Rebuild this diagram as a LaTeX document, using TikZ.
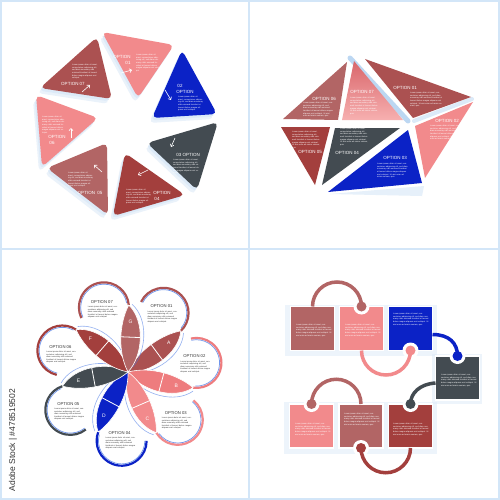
\documentclass[tikz,border=0pt]{standalone}
\usepackage{fontspec}
\setmainfont{Liberation Sans}
\usetikzlibrary{arrows.meta,calc}
\definecolor{pinkA}{HTML}{F28A8C}
\definecolor{pinkB}{HTML}{EE7C7E}
\definecolor{pinkTop}{HTML}{D9666B}
\definecolor{pinkBot}{HTML}{F7B0B0}
\definecolor{blueA}{HTML}{0B22C6}
\definecolor{grayA}{HTML}{434B51}
\definecolor{redA}{HTML}{A33F3D}
\definecolor{roseA}{HTML}{B26565}
\definecolor{brickA}{HTML}{AB5151}
\definecolor{frameA}{HTML}{D3E6F8}
\definecolor{glowA}{HTML}{DCEAF8}
\definecolor{glowB}{HTML}{BCD7F2}
\definecolor{lineB}{HTML}{4C7BE6}
\definecolor{txtA}{HTML}{333333}
\newcommand\loremtxt{Lorem ipsum dolor sit amet, consectetuer adipiscing elit, sed diam nonummy nibh euismod tincidunt ut laoreet dolore magna aliquam erat volutpat. Ut wisi enim ad minim veniam, quis}
\newcommand\loremshort{Lorem ipsum dolor sit amet, consectetuer adipiscing elit, sed diam nonummy nibh euismod tincidunt ut laoreet dolore magna aliquam erat volutpat.}
\tikzset{
  opt/.style={font=\fontsize{4.5}{5}\selectfont, text=white, inner sep=0pt},
  optd/.style={font=\fontsize{4.2}{5}\selectfont, text=txtA, inner sep=0pt},
  lor/.style={font=\fontsize{2}{2.6}\selectfont, text=white, align=left, inner sep=0pt, text width=#1, anchor=north west},
  lord/.style={font=\fontsize{2}{2.5}\selectfont, text=txtA, align=left, inner sep=0pt, text width=#1, anchor=north},
  warrow/.style={white, line width=0.6pt, -{Straight Barb[length=2.2pt,width=4pt]}},
  sqr/.style={minimum width=44pt, minimum height=44pt, inner sep=0pt, outer sep=0pt, draw=white, line width=1.2pt},
  con/.style={line width=3.5pt},
  letter/.style={font=\fontsize{5}{5}\selectfont, text=white, inner sep=0pt},
}
\newcommand\qtri[4]{%
  \fill[glowA, opacity=0.6, rounded corners=5pt, shift={(-3,5)}] #2 -- #3 -- #4 -- cycle;
  \fill[glowA, rounded corners=5pt, shift={(-1.5,2.5)}] #2 -- #3 -- #4 -- cycle;
  \fill[#1, rounded corners=5pt] #2 -- #3 -- #4 -- cycle;}
\newcommand\qpetal[5]{%
  \begin{scope}[shift={(128,372)}, rotate=-#1]
    \draw[#3, line width=2.2pt] (69,0) ++(105:25) arc[start angle=105, end angle=-95, radius=25];
    \draw[lineB, line width=0.7pt, opacity=0.8] (69,0) ++(100:23.2) arc[start angle=100, end angle=-95, radius=23.2];
    \draw[lineB, line width=0.6pt, opacity=0.6] (3,6) .. controls (12,24) and (42,38) .. (62,27.5);
    \fill[#2, draw=white, line width=0.6pt] (0,0) .. controls (10,20) and (42,34) .. (62.5,24.1) .. controls (50,10) and (24,-3) .. (0,0) -- cycle;
    \draw[white, line width=0.8pt] (28,23.5) -- (35.5,5.6);
    \node[letter] (#5) at (46,20) {#4};
  \end{scope}}
\begin{document}
\begin{tikzpicture}[x=1pt,y=-1pt]
\path[use as bounding box] (0,0) rectangle (500,500);
\fill[white] (0,0) rectangle (500,500);
\draw[frameA, line width=2pt] (1,1) rectangle (499,499);
\draw[frameA, line width=2.5pt] (249,0) -- (249,500);
\draw[frameA, line width=2.5pt] (0,249) -- (500,249);

% ---------------- Quadrant 1 : heptagon of triangles
\qtri{pinkA}{(102,32)}{(174,45)}{(138,98)}
\qtri{blueA}{(182,50)}{(217,114)}{(152,118)}
\qtri{grayA}{(218,122)}{(197,190)}{(147,143)}
\qtri{redA}{(125,153)}{(185,195)}{(113,216)}
\qtri{roseA}{(107,143)}{(108,215)}{(47,168)}
\qtri{pinkA}{(36,95)}{(42,167)}{(98,118)}
\qtri{brickA}{(97,37)}{(112,99)}{(40,88)}

\node[opt] (q1o1) at (122,57) {OPTION};
\node[opt] (q1n1) at (128,63) {01};
\node[lor=24] (q1l1) at (136,54) {\loremshort};
\draw[warrow] (121,73) -- (132,70);

\node[opt] (q1n2) at (180,86) {02};
\node[opt] (q1o2) at (185,92) {OPTION};
\node[lor=25] (q1l2) at (178,96) {\loremshort};
\draw[warrow] (165,90) -- (171,100);

\node[opt] (q1o3) at (188,155) {03 OPTION};
\node[lor=27] (q1l3) at (173,159) {\loremshort};
\draw[warrow] (175,138) -- (171,147);

\node[opt] (q1o4) at (162,193) {OPTION};
\node[opt] (q1n4) at (157,199) {04};
\node[lor=25] (q1l4) at (126,189) {\loremshort};
\draw[warrow] (148,170) -- (138,175);

\node[opt] (q1o5) at (90,193) {OPTION\enspace05};
\node[lor=25] (q1l5) at (68,172) {\loremshort};
\draw[warrow] (102,172) -- (94,165);

\node[opt] (q1o6) at (57,137) {OPTION};
\node[opt] (q1n6) at (52,143) {06};
\node[lor=23] (q1l6) at (42,116) {\loremshort};
\draw[warrow] (71,138) -- (71,128);

\node[opt] (q1o7) at (73,84) {OPTION 07};
\node[lor=26] (q1l7) at (72,64) {\loremshort};
\draw[warrow] (82,92) -- (90,85);

% ---------------- Quadrant 2 : pentagon of triangles
\draw[glowB, line width=5pt, line cap=round] (350,58) -- (408,121);
\draw[glowA, line width=4pt, line cap=round] (414,121) -- (472,99);
\fill[glowA, opacity=0.7] (330,194) -- (424,186) -- (422,196) -- cycle;
\fill[brickA] (365,59) -- (471,97) -- (413,118) -- cycle;
\fill[pinkA] (473,102) -- (415,126) -- (425,178) -- cycle;
\fill[blueA] (408,130) -- (422,183) -- (328,192) -- cycle;
\fill[grayA] (335,128) -- (400,128) -- (322,185) -- cycle;
\fill[redA] (281,127) -- (330,127) -- (315,185) -- cycle;
\fill[roseA] (347,62) -- (283,119) -- (338,120) -- cycle;
\shade[top color=pinkTop, bottom color=pinkBot] (354,61) -- (342,120) -- (403,120) -- cycle;

\node[opt] (q2o1) at (405,88) {OPTION 01};
\node[lor=32] (q2l1) at (410,92) {\loremtxt};
\node[opt] (q2o2) at (447,121) {OPTION 02};
\node[lor=30] (q2l2) at (430,125) {\loremtxt};
\node[opt] (q2o3) at (395,158) {OPTION 03};
\node[lor=31] (q2l3) at (377,163) {\loremtxt};
\node[opt] (q2o4) at (347,153) {OPTION 04};
\node[lor=28] (q2l4) at (340,128) {\loremtxt};
\node[opt] (q2o5) at (310,152) {OPTION 05};
\node[lor=28] (q2l5) at (292,131) {\loremtxt};
\node[opt] (q2o6) at (324,99) {OPTION 06};
\node[lor=30] (q2l6) at (303,102) {\loremtxt};
\node[opt] (q2o7) at (362,92) {OPTION 07};
\node[lor=28] (q2l7) at (350,97) {\loremtxt};

% ---------------- Quadrant 3 : pinwheel
\qpetal{-59}{brickA}{brickA}{A}{pa}
\qpetal{-7.57}{pinkB}{pinkB}{B}{pb}
\qpetal{43.86}{pinkA}{pinkA}{C}{pc}
\qpetal{95.29}{blueA}{blueA}{D}{pd}
\qpetal{146.71}{grayA}{grayA}{E}{pe}
\qpetal{198.14}{redA}{redA}{F}{pf}
\qpetal{249.57}{roseA}{brickA}{G}{pg}

\node[optd] (q3o1) at (161.5,306.5) {OPTION 01};
\node[lord=30] (q3l1) at (162.5,310.5) {\loremshort};
\node[optd] (q3o2) at (194.4,356.5) {OPTION 02};
\node[lord=30] (q3l2) at (195.4,360.5) {\loremshort};
\node[optd] (q3o3) at (175.8,413) {OPTION 03};
\node[lord=30] (q3l3) at (176.8,417) {\loremshort};
\node[optd] (q3o4) at (119.6,433) {OPTION 04};
\node[lord=30] (q3l4) at (120.6,437) {\loremshort};
\node[optd] (q3o5) at (68.3,404) {OPTION 05};
\node[lord=30] (q3l5) at (69.3,408) {\loremshort};
\node[optd] (q3o6) at (60.4,347) {OPTION 06};
\node[lord=30] (q3l6) at (61.4,351) {\loremshort};
\node[optd] (q3o7) at (101.9,302) {OPTION 07};
\node[lord=30] (q3l7) at (102.9,306) {\loremshort};

\node[rotate=90, font=\fontsize{8.5}{9}\selectfont, text=txtA, inner sep=0pt] (stock) at (13,440) {Adobe Stock | \#478519502};

% ---------------- Quadrant 4 : linked squares
\fill[glowA, opacity=0.5] (285,305) rectangle (437,356);
\fill[glowA, opacity=0.5] (432,354) rectangle (482,404);
\fill[glowA, opacity=0.5] (284,402) rectangle (437,454);
\node[sqr, fill=roseA] (s1) at (312.5,328.5) {};
\node[sqr, fill=pinkA] (s2) at (361.5,328.5) {};
\node[sqr, fill=blueA] (s3) at (410.5,328.5) {};
\node[sqr, fill=grayA] (s4) at (457.5,378) {};
\node[sqr, fill=pinkA] (s5) at (311.5,426) {};
\node[sqr, fill=roseA] (s6) at (361,426) {};
\node[sqr, fill=redA] (s7) at (410.5,426) {};

\foreach \p in {s2.north, s3.south, s4.north, s7.north, s5.north, s6.south}
  \fill[white] (\p) circle[radius=8];

\draw[con, roseA] (s1.north) arc[start angle=180, end angle=360, radius=24.5];
\draw[con, pinkA] (s2.south) arc[start angle=180, end angle=0, radius=24.5];
\draw[con, blueA] ($(s3.east)+(0,6)$) .. controls (449,334.5) and (457.5,343) .. (s4.north);
\draw[con, grayA] ($(s4.west)+(0,5)$) .. controls (420,384) and (410.5,393) .. (s7.north);
\draw[con, roseA] (s6.north) arc[start angle=0, end angle=-180, radius=24.75];
\draw[con, redA] (s7.south) arc[start angle=0, end angle=180, radius=24.75];

\fill[roseA] (s2.north) circle[radius=5];
\fill[pinkA] (s3.south) circle[radius=5];
\fill[blueA] (s4.north) circle[radius=5];
\fill[grayA] (s7.north) circle[radius=5];
\fill[roseA] (s5.north) circle[radius=5];
\fill[redA] (s6.south) circle[radius=5];

\node[lor=36] (t1) at (296,324) {\loremtxt};
\node[lor=36] (t2) at (345,324) {\loremtxt};
\node[lor=37] (t3) at (393,313) {\loremtxt};
\node[lor=37] (t4) at (441,374) {\loremtxt};
\node[lor=36] (t5) at (295,423) {\loremtxt};
\node[lor=36] (t6) at (344,413) {\loremtxt};
\node[lor=37] (t7) at (393,423) {\loremtxt};
\end{tikzpicture}
\end{document}
